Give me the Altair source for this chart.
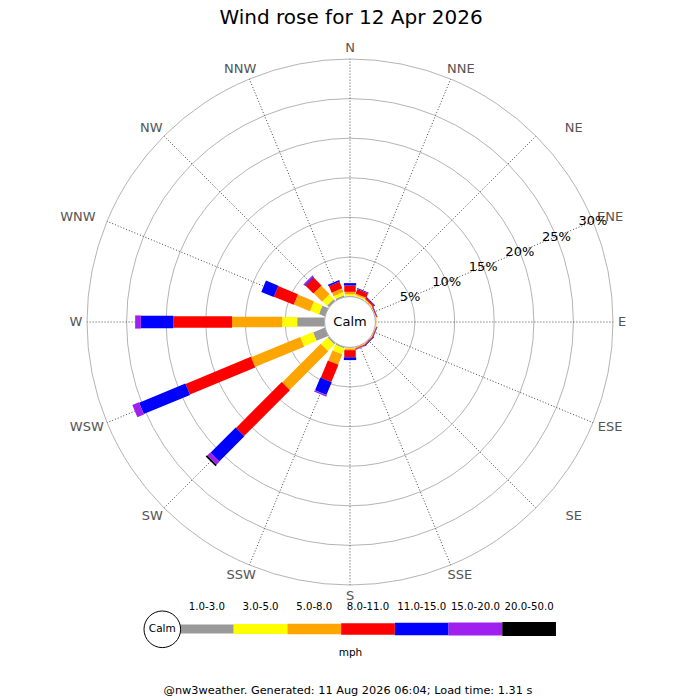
import math
import altair as alt
import pandas as pd

# ---------------- data ----------------
TITLE = "Wind rose for 12 Apr 2026"
FOOTER = "@nw3weather. Generated: 11 Aug 2026 06:04; Load time: 1.31 s"
CALM_LABEL = "Calm"
SPEED_UNIT = "mph"
DIRECTIONS = ["N", "NNE", "NE", "ENE", "E", "ESE", "SE", "SSE",
              "S", "SSW", "SW", "WSW", "W", "WNW", "NW", "NNW"]
SPEED_BINS = ["1.0-3.0", "3.0-5.0", "5.0-8.0", "8.0-11.0",
              "11.0-15.0", "15.0-20.0", "20.0-50.0"]
GRID_PCT = [5, 10, 15, 20, 25, 30]

# % of the day per direction (order of DIRECTIONS), one list per speed bin
BIN_1_3   = [0.10, 0.05, 0.02, 0.00, 0.02, 0.00, 0.00, 0.00, 0.05, 0.15, 0.20, 1.60, 3.46, 0.80, 0.30, 0.20]
BIN_3_5   = [0.20, 0.15, 0.10, 0.05, 0.05, 0.05, 0.05, 0.05, 0.10, 0.80, 1.15, 1.73, 1.89, 1.20, 0.80, 0.40]
BIN_5_8   = [0.30, 0.20, 0.10, 0.05, 0.05, 0.05, 0.05, 0.10, 0.20, 1.40, 6.90, 6.72, 6.34, 2.20, 1.50, 0.50]
BIN_8_11  = [0.80, 0.60, 0.20, 0.10, 0.00, 0.10, 0.10, 0.10, 0.90, 2.35, 8.18, 8.92, 7.40, 2.70, 1.40, 0.90]
BIN_11_15 = [0.30, 0.10, 0.10, 0.05, 0.00, 0.05, 0.10, 0.05, 0.35, 1.75, 4.50, 6.33, 4.11, 1.70, 0.15, 0.20]
BIN_15_20 = [0.00, 0.00, 0.00, 0.00, 0.00, 0.00, 0.00, 0.05, 0.00, 0.20, 0.53, 0.90, 0.72, 0.00, 0.15, 0.00]
BIN_20_50 = [0.00, 0.00, 0.00, 0.00, 0.00, 0.00, 0.00, 0.00, 0.00, 0.00, 0.22, 0.00, 0.00, 0.00, 0.00, 0.00]
SERIES = [BIN_1_3, BIN_3_5, BIN_5_8, BIN_8_11, BIN_11_15, BIN_15_20, BIN_20_50]

# ---------------- styles / layout ----------------
COLORS = ["#999999", "#ffff00", "#ffa500", "#ff0000", "#0000ff", "#a020f0", "#000000"]
BAR_WIDTHS = [9, 14, 21, 23, 25, 27, 28]
FONT = "DejaVu Sans"
W, H = 684, 690
CX, CY = 342, 314          # rose centre in plot pixels
K = 7.92                   # pixels per percent
CALM_PX = 25.4             # radius of calm circle in pixels
LABEL_R_PX = 274
LABEL_NUDGE_PX = [0, 6, 30, 7, -2, 7, 30, 5, 0, -4, -4, -10, 0, -19, -5, -5]
R0U = CALM_PX / K


def ux(page_x):
    return (page_x - 8 - CX) / K


def uy(page_y):
    return (CY - (page_y - 8)) / K


XS = alt.Scale(domain=[-CX / K, (W - CX) / K], nice=False, zero=False)
YS = alt.Scale(domain=[-(H - CY) / K, CY / K], nice=False, zero=False)
RS = alt.Scale(type="linear", domain=[0, CX / K], range=[0, CX], zero=True, nice=False)
CS = alt.Scale(domain=SPEED_BINS, range=COLORS)
SWS = alt.Scale(domain=SPEED_BINS, range=BAR_WIDTHS)


def X(f):
    return alt.X(f, type="quantitative", scale=XS, axis=None)


def Y(f):
    return alt.Y(f, type="quantitative", scale=YS, axis=None)


def R(f):
    return alt.Radius(f, type="quantitative", scale=RS, stack=None)


# ---------------- tables ----------------
bars_df = pd.DataFrame([
    {"d": i, "dir": DIRECTIONS[i], "b": j, "speed": SPEED_BINS[j], "pct": SERIES[j][i]}
    for i in range(len(DIRECTIONS)) for j in range(len(SPEED_BINS))
])
dirs_df = pd.DataFrame({"d": list(range(len(DIRECTIONS))), "label": DIRECTIONS,
                        "nudge": LABEL_NUDGE_PX})
grid_df = pd.DataFrame({"pct": GRID_PCT, "label": [f"{p}%" for p in GRID_PCT]})
legend_df = pd.DataFrame({"b": list(range(len(SPEED_BINS))), "speed": SPEED_BINS})

# grid circles
grid = alt.Chart(grid_df).transform_calculate(
    r=f"{R0U} + datum.pct", cx="0", cy="0"
).mark_arc(filled=False, stroke="#b4b4b4", strokeWidth=1, theta=0, theta2=6.2832).encode(
    x=X("cx"), y=Y("cy"), radius=R("r")
)

# spokes
rmax = R0U + max(GRID_PCT)
spokes = alt.Chart(dirs_df).transform_calculate(
    a="datum.d * PI / 8"
).transform_calculate(
    x0=f"{R0U} * sin(datum.a)", y0=f"{R0U} * cos(datum.a)",
    x1=f"{rmax} * sin(datum.a)", y1=f"{rmax} * cos(datum.a)"
).mark_rule(color="#444444", strokeWidth=1, strokeDash=[1, 2]).encode(
    x=X("x0"), y=Y("y0"), x2="x1:Q", y2="y1:Q"
)

# stacked bars
bars = alt.Chart(bars_df).transform_filter("datum.pct > 0").transform_window(
    cum="sum(pct)", groupby=["d"], sort=[alt.SortField("b")]
).transform_calculate(
    a="datum.d * PI / 8", r1=f"{R0U} + datum.cum", o="datum.d * 10 + datum.b"
).transform_calculate(
    r0="datum.r1 - datum.pct"
).transform_calculate(
    x0="datum.r0 * sin(datum.a)", y0="datum.r0 * cos(datum.a)",
    x1="datum.r1 * sin(datum.a)", y1="datum.r1 * cos(datum.a)"
).mark_rule(strokeCap="butt").encode(
    x=X("x0"), y=Y("y0"), x2="x1:Q", y2="y1:Q",
    color=alt.Color("speed:O", scale=CS, legend=None),
    strokeWidth=alt.StrokeWidth("speed:O", scale=SWS, legend=None),
    order=alt.Order("o:Q"),
)

# calm circle
calm_df = pd.DataFrame({"label": [CALM_LABEL]})
calm = alt.Chart(calm_df).transform_calculate(
    r=f"{R0U}", cx="0", cy="0"
).mark_arc(fill="white", stroke="#aaaaaa", strokeWidth=1, theta=0, theta2=6.2832).encode(
    x=X("cx"), y=Y("cy"), radius=R("r")
)
calm_text = alt.Chart(calm_df).transform_calculate(cx="0", cy="0").mark_text(
    font=FONT, fontSize=13, color="black", baseline="middle", align="center"
).encode(x=X("cx"), y=Y("cy"), text="label:N")

# direction labels
lab_ru = LABEL_R_PX / K
dir_labels = alt.Chart(dirs_df).transform_calculate(
    a="datum.d * PI / 8"
).transform_calculate(
    lx=f"{lab_ru} * sin(datum.a) + datum.nudge / {K}", ly=f"{lab_ru} * cos(datum.a)"
).mark_text(font=FONT, fontSize=13, color="#555555", baseline="middle", align="center").encode(
    x=X("lx"), y=Y("ly"), text="label:N"
)

# percentage labels along ENE
pct_labels = alt.Chart(grid_df).transform_calculate(
    r=f"{R0U} + datum.pct"
).transform_calculate(
    lx="datum.r * sin(3 * PI / 8)", ly="datum.r * cos(3 * PI / 8)"
).mark_text(font=FONT, fontSize=13, color="black", baseline="middle", align="center").encode(
    x=X("lx"), y=Y("ly"), text="label:N"
)

# title & footer
texts_df = pd.DataFrame({
    "label": [TITLE, FOOTER, SPEED_UNIT],
    "kind": ["title", "footer", "unit"],
})
title = alt.Chart(texts_df).transform_filter("datum.kind == 'title'").transform_calculate(
    tx=f"{ux(351)}", ty=f"{uy(18)}"
).mark_text(font=FONT, fontSize=20, color="black", baseline="middle", align="center").encode(
    x=X("tx"), y=Y("ty"), text="label:N"
)
footer = alt.Chart(texts_df).transform_filter("datum.kind == 'footer'").transform_calculate(
    tx=f"{ux(348)}", ty=f"{uy(690.5)}"
).mark_text(font=FONT, fontSize=11.3, color="black", baseline="middle", align="center").encode(
    x=X("tx"), y=Y("ty"), text="label:N"
)
unit = alt.Chart(texts_df).transform_filter("datum.kind == 'unit'").transform_calculate(
    tx=f"{ux(350.5)}", ty=f"{uy(653)}"
).mark_text(font=FONT, fontSize=10.5, color="black", baseline="middle", align="center").encode(
    x=X("tx"), y=Y("ty"), text="label:N"
)

# legend
LEG_X0, LEG_SEG, LEG_Y, LEG_LAB_Y = 180.0, 53.71, 629.0, 607.0
legend_bars = alt.Chart(legend_df).transform_calculate(
    x0=f"({LEG_X0} + datum.b * {LEG_SEG} - 8 - {CX}) / {K}",
    x1=f"({LEG_X0} + (datum.b + 1) * {LEG_SEG} - 8 - {CX}) / {K}",
    y0=f"{uy(LEG_Y)}",
).mark_rule(strokeCap="butt").encode(
    x=X("x0"), x2="x1:Q", y=Y("y0"),
    color=alt.Color("speed:O", scale=CS, legend=None),
    strokeWidth=alt.StrokeWidth("speed:O", scale=SWS, legend=None),
)
legend_labels = alt.Chart(legend_df).transform_calculate(
    lx=f"({LEG_X0} + (datum.b + 0.5) * {LEG_SEG} - 8 - {CX}) / {K}",
    ly=f"{uy(LEG_LAB_Y)}",
).mark_text(font=FONT, fontSize=10.2, color="black", baseline="middle", align="center").encode(
    x=X("lx"), y=Y("ly"), text="speed:N"
)
legend_calm = alt.Chart(calm_df).transform_calculate(
    r=f"{18.3 / K}", cx=f"{ux(162.3)}", cy=f"{uy(629.3)}"
).mark_arc(fill="white", stroke="black", strokeWidth=1, theta=0, theta2=6.2832).encode(
    x=X("cx"), y=Y("cy"), radius=R("r")
)
legend_calm_text = alt.Chart(calm_df).transform_calculate(
    cx=f"{ux(162.3)}", cy=f"{uy(629.3)}"
).mark_text(font=FONT, fontSize=10.5, color="black", baseline="middle", align="center").encode(
    x=X("cx"), y=Y("cy"), text="label:N"
)

chart = alt.layer(
    grid, spokes, bars, calm, calm_text, dir_labels, pct_labels, title,
    legend_bars, legend_calm, legend_calm_text, legend_labels, unit, footer
).properties(
    width=W, height=H, padding=0,
    autosize=alt.AutoSizeParams(type="none"), background="white"
).configure_view(stroke=None)

chart.save("out.html", embed_options={"renderer": "svg", "actions": False})
